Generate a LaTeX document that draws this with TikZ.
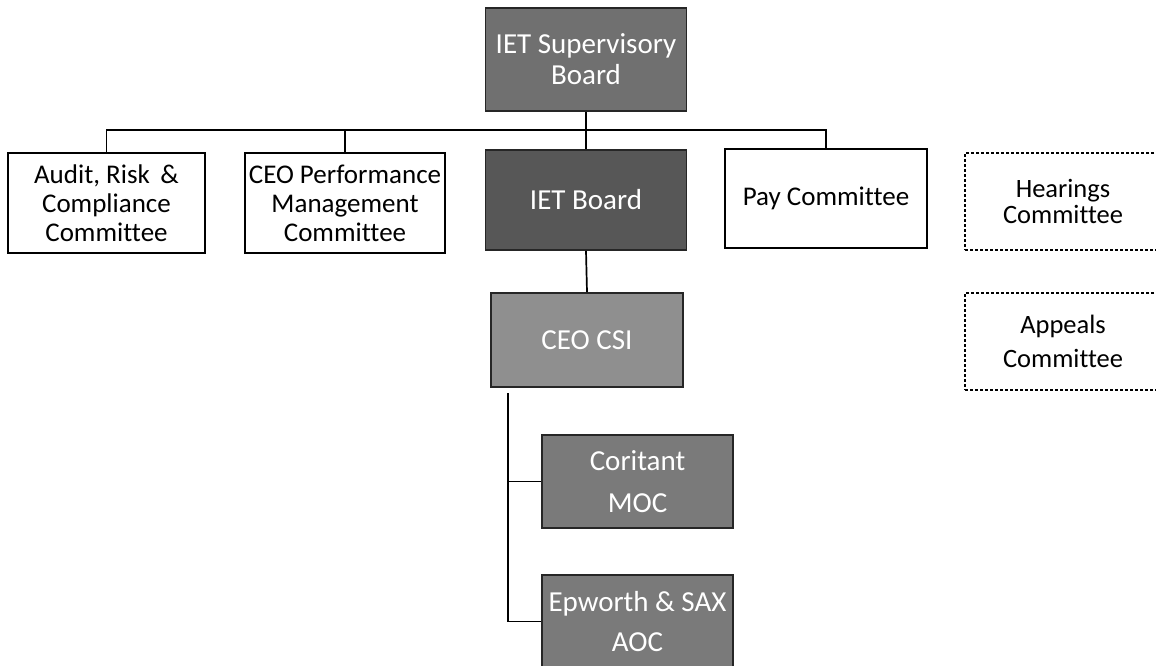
\documentclass[tikz,border=0pt]{standalone}
\usepackage{fontspec}
\setmainfont{Carlito}[Ligatures=NoCommon]
\begin{document}
\begin{tikzpicture}[x=1pt,y=-1pt,
  box/.style={draw=black,line width=2.6pt,fill=white,inner sep=0pt,align=center,
    font=\fontsize{27}{29}\selectfont},
  graybox/.style={draw=black!85,line width=1.8pt,inner sep=0pt,align=center,text=white,
    font=\fontsize{29}{31}\selectfont},
  dotbox/.style={draw=black,line width=2.8pt,dash pattern=on 2.6pt off 2.4pt,inner sep=0pt,
    align=center,font=\fontsize{26.5}{28}\selectfont},
  link/.style={draw=black,line width=1.7pt}]
\useasboundingbox (0,0) rectangle (1156,665);
\begin{scope}
\clip (0,0) rectangle (1156,665);

% top of the hierarchy
\node[graybox,fill=black!56,minimum width=201pt,minimum height=103pt] (sup) at (586,59.5)
  {IET Supervisory\\Board};

% committees and board in the second row
\node[box,minimum width=197pt,minimum height=100pt] (audit) at (106.5,203)
  {Audit, Risk \,\&\\Compliance\\Committee};
\node[box,minimum width=200pt,minimum height=100pt] (perf) at (345,203)
  {CEO Performance\\Management\\Committee};
\node[graybox,fill=black!66,minimum width=201pt,minimum height=100pt] (ietb) at (586,200)
  {IET Board};
\node[box,minimum width=202pt,minimum height=99pt] (pay) at (826,198.5)
  {Pay Committee};

% stand-alone committees
\node[dotbox,minimum width=196pt,minimum height=97pt] (hear) at (1063,201.5)
  {Hearings\\[-2pt]Committee};
\node[dotbox,minimum width=196pt,minimum height=97pt] (appeal) at (1063,341.5)
  {Appeals\\[6pt]Committee};

% executive line
\node[graybox,fill=black!44,minimum width=192pt,minimum height=94pt] (csi) at (587,340)
  {CEO CSI};
\node[graybox,fill=black!52,minimum width=191pt,minimum height=93pt] (cor) at (637.5,481.5)
  {Coritant\\[11pt]MOC};
\node[graybox,fill=black!52,minimum width=191pt,minimum height=93pt] (epw) at (637.5,621.5)
  {Epworth \& SAX\\[9pt]AOC};

% connectors
\coordinate (bus) at (586,130);
\draw[link] (sup.south) -- (ietb.north);
\draw[link] (audit.north) |- (bus) -| (pay.north);
\draw[link] (perf.north) -- (perf.north |- bus);
\draw[link] (ietb.south) -- (csi.north);
\coordinate (csiout) at (508,393);
\draw[link] (csiout) |- (epw.west);
\draw[link] (csiout |- cor.west) -- (cor.west);
\end{scope}
\end{tikzpicture}
\end{document}
